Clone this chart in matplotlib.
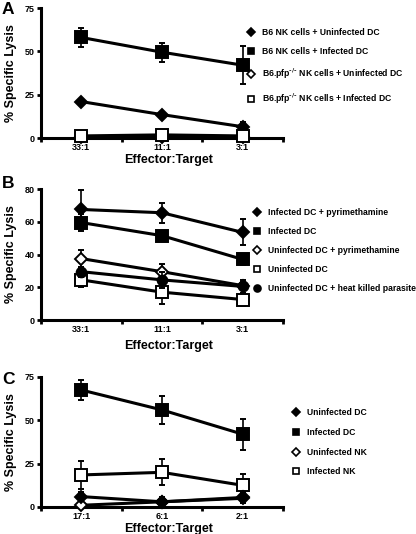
import numpy as np
import matplotlib
matplotlib.use('Agg')
import matplotlib.pyplot as plt
from matplotlib.lines import Line2D

plt.rcParams['font.family'] = ['Liberation Sans', 'DejaVu Sans']
plt.rcParams['font.weight'] = 'bold'
plt.rcParams['mathtext.default'] = 'bf'

# panel A
ratios_a = ['33:1', '11:1', '3:1']
a_labels = ['B6 NK cells + Uninfected DC', 'B6 NK cells + Infected DC',
            r'B6.pfp$^{\text{-/-}}$ NK cells + Uninfected DC', r'B6.pfp$^{\text{-/-}}$ NK cells + Infected DC']
a_vals = [[21, 13.5, 6.5], [58, 49.5, 42], [0.5, 0.5, 0.5], [1.2, 1.8, 1.2]]
a_errs = [[1, 1, 3], [5.5, 5.5, 11], [0.5, 0.5, 0.5], [2, 0.5, 0.5]]

# panel B
ratios_b = ['33:1', '11:1', '3:1']
b_labels = ['Infected DC + pyrimethamine', 'Infected DC', 'Uninfected DC + pyrimethamine',
            'Uninfected DC', 'Uninfected DC + heat killed parasite']
b_vals = [[67.5, 65.5, 53.5], [59.5, 51.5, 37], [37.5, 29.5, 21], [24.5, 17, 12.5], [29.5, 24.5, 20.5]]
b_errs = [[12, 6, 8], [5, 1.5, 3.5], [5.5, 4.5, 2], [4.5, 7, 4], [3, 5, 4]]

# panel C
ratios_c = ['17:1', '6:1', '2:1']
c_labels = ['Uninfected DC', 'Infected DC', 'Uninfected NK', 'Infected NK']
c_vals = [[6, 3, 5.5], [67.5, 56, 42], [1, 3, 5], [18.5, 20, 12.5]]
c_errs = [[2.5, 2.5, 3], [5.5, 8, 9], [0.5, 0.5, 0.5], [8, 7.5, 6.5]]

a_marks = [('D', 'k', 6), ('s', 'k', 9), ('D', 'w', 6), ('s', 'w', 8)]
b_marks = [('D', 'k', 6), ('s', 'k', 8), ('D', 'w', 6), ('s', 'w', 8), ('o', 'k', 7)]
c_marks = [('D', 'k', 6), ('s', 'k', 9), ('D', 'w', 6), ('s', 'w', 8)]

W, H = 416, 534
fig = plt.figure(figsize=(W / 100, H / 100), dpi=100)


def px_axes(left, top, right, bottom):
    return fig.add_axes([left / W, 1 - bottom / H, (right - left) / W, (bottom - top) / H])


def draw(ax, ratios, vals, errs, marks, ymax, yticks, xlab_y, first_on_top=False):
    x = np.arange(len(ratios))
    n = len(vals)
    for i, (v, e, (m, fc, ms)) in enumerate(zip(vals, errs, marks)):
        z = 3 + (n - i if first_on_top else i) * 0.1
        ax.errorbar(x, v, yerr=e, color='k', lw=2.2, marker=m, markersize=ms,
                    markerfacecolor=fc, markeredgecolor='k', markeredgewidth=1.4,
                    ecolor='k', elinewidth=1.2, capsize=2.2, capthick=1.2, clip_on=False, zorder=z)
    ax.set_xlim(-0.5, 2.5)
    ax.set_ylim(0, ymax)
    ax.set_yticks(yticks)
    ax.set_xticks(x)
    ax.set_xticklabels(ratios)
    ax.set_xticks([-0.5, 0.5, 1.5, 2.5], minor=True)
    ax.tick_params(axis='x', which='major', length=0, pad=3.5, labelsize=6.5)
    ax.tick_params(axis='x', which='minor', length=3, width=2, direction='out')
    ax.tick_params(axis='y', length=3, width=2, pad=1.5, labelsize=6.5)
    for s in ['top', 'right']:
        ax.spines[s].set_visible(False)
    for s in ['left', 'bottom']:
        ax.spines[s].set_linewidth(2.2)
    ax.set_ylabel('% Specific Lysis', fontsize=9, fontweight='bold')
    ax.yaxis.set_label_coords(-(41 - 17) / 242, 0.5)
    ax.set_xlabel('Effector:Target', fontsize=9, fontweight='bold')
    ax.xaxis.set_label_coords((169 - 41) / 242, xlab_y)


def legend(ax, labels, marks, lx, ly, spacing):
    handles = []
    for (m, fc, ms) in marks:
        size = 5 if m == 'o' else 4.3
        handles.append(Line2D([], [], ls='none', marker=m, markersize=size,
                              markerfacecolor=fc, markeredgecolor='k', markeredgewidth=1.2))
    ax.legend(handles, labels, loc='upper left', bbox_to_anchor=(lx / W, 1 - ly / H),
              bbox_transform=fig.transFigure, frameon=False, fontsize=6.2,
              handlelength=1, handletextpad=0.7, labelspacing=spacing, borderpad=0, borderaxespad=0)


ax_a = px_axes(41, 8, 283, 138)
draw(ax_a, ratios_a, a_vals, a_errs, a_marks, 75, [0, 25, 50, 75], -0.125)
legend(ax_a, a_labels, a_marks, 247, 28, 1.2)

ax_b = px_axes(41, 189, 283, 320)
draw(ax_b, ratios_b, b_vals, b_errs, b_marks, 80, [0, 20, 40, 60, 80], -0.155)
legend(ax_b, b_labels, b_marks, 253, 208, 1.15)

ax_c = px_axes(41, 377, 283, 507)
draw(ax_c, ratios_c, c_vals, c_errs, c_marks, 75, [0, 25, 50, 75], -0.125, first_on_top=True)
legend(ax_c, c_labels, c_marks, 292, 408, 1.25)

for lab, yy in [('A', 9), ('B', 184), ('C', 379)]:
    fig.text(2 / W, 1 - yy / H, lab, fontsize=12.5, fontweight='bold', va='center', ha='left')

fig.savefig('out.png', dpi=100)
